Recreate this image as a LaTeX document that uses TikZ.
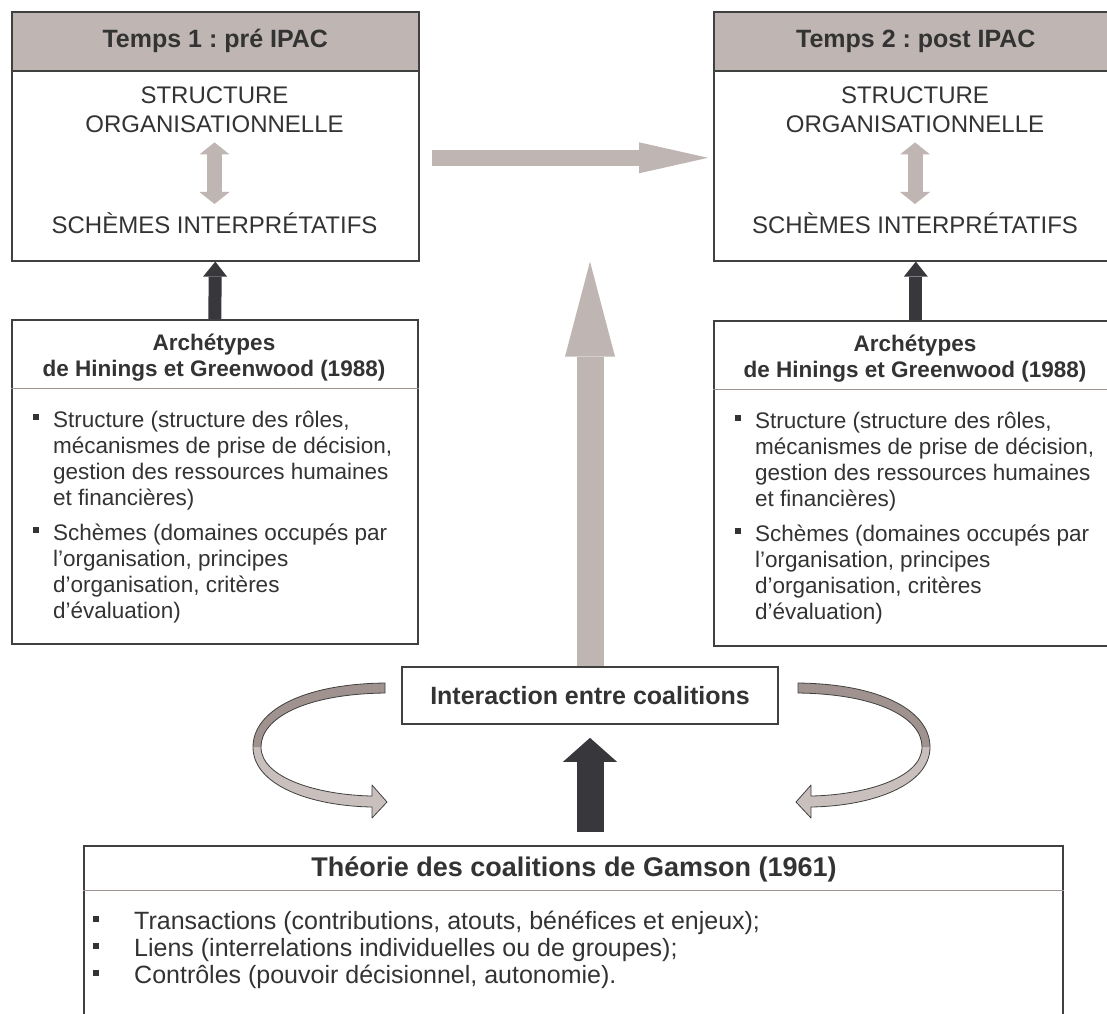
\documentclass[tikz,border=0pt]{standalone}
\usepackage{fontspec}
\setmainfont{Liberation Sans}
\usetikzlibrary{arrows.meta}
\frenchspacing

\definecolor{taupe}{RGB}{191,181,178}
\definecolor{taupedark}{RGB}{160,146,142}
\definecolor{ink}{RGB}{51,51,51}
\definecolor{framegrey}{RGB}{64,64,64}
\definecolor{anthracite}{RGB}{56,55,60}

\newcommand{\sqbullet}{\rule[7pt]{6pt}{6pt}}
\newcommand{\stack}[1]{\begin{tabular}[t]{@{}c@{}}#1\end{tabular}}

\tikzset{
  boxframe/.style={draw=framegrey, line width=1.6pt, fill=white, inner sep=0pt, anchor=north west},
  header/.style={boxframe, fill=taupe, text=ink, font=\fontsize{25}{29}\selectfont\bfseries},
  bigtext/.style={text=ink, inner sep=0pt, anchor=base, font=\fontsize{24}{29}\selectfont},
  archtitle/.style={text=ink, inner sep=0pt, anchor=base, font=\fontsize{22.5}{26}\selectfont\bfseries},
  itemtext/.style={text=ink, inner sep=0pt, anchor=base west, font=\fontsize{22.5}{26}\selectfont},
  sepline/.style={draw=taupedark, line width=1pt},
  lightarrow/.style={draw=taupe},
  darkarrow/.style={draw=anthracite},
  band/.style={draw=framegrey, line width=0.8pt, line join=round}
}

\begin{document}
\begin{tikzpicture}[x=1pt,y=-1pt]
  \useasboundingbox (0,0) rectangle (1107,1013);
  \clip (0,0) rectangle (1107,1013);

  % temps 1
  \node[boxframe, minimum width=407pt, minimum height=249pt] (box1) at (11,11) {};
  \node[header, minimum width=407pt, minimum height=59pt] (hdr1) at (11,11) {Temps 1 : pré IPAC};
  \node[bigtext] (struct1a) at (214.5,103) {STRUCTURE};
  \node[bigtext] (struct1b) at (214.5,132) {ORGANISATIONNELLE};
  \node[bigtext] (schem1) at (214.5,233) {SCHÈMES INTERPRÉTATIFS};

  % temps 2
  \node[boxframe, minimum width=404pt, minimum height=249pt] (box2) at (713,11) {};
  \node[header, minimum width=404pt, minimum height=59pt] (hdr2) at (713,11) {Temps 2 : post IPAC};
  \node[bigtext] (struct2a) at (915,103) {STRUCTURE};
  \node[bigtext] (struct2b) at (915,132) {ORGANISATIONNELLE};
  \node[bigtext] (schem2) at (915,233) {SCHÈMES INTERPRÉTATIFS};

  % archetypes
  \node[boxframe, minimum width=406pt, minimum height=324pt] (arch1) at (11,319) {};
  \draw[sepline] ([yshift=-69pt]arch1.north west) -- ([yshift=-69pt]arch1.north east);
  \node[archtitle] (archt1) at (214,350) {\stack{Archétypes\\de Hinings et Greenwood (1988)}};
  \node[itemtext] (archl1) at (33,427) {\begin{tabular}[t]{@{}l@{\hspace{14pt}}l@{}}
    \sqbullet & Structure (structure des rôles,\\
    & mécanismes de prise de décision,\\
    & gestion des ressources humaines\\
    & et financières)\\[9pt]
    \sqbullet & Schèmes (domaines occupés par\\
    & l’organisation, principes\\
    & d’organisation, critères\\
    & d’évaluation)
  \end{tabular}};

  \node[boxframe, minimum width=404pt, minimum height=325pt] (arch2) at (713,320) {};
  \draw[sepline] ([yshift=-69pt]arch2.north west) -- ([yshift=-69pt]arch2.north east);
  \node[archtitle] (archt2) at (915,351) {\stack{Archétypes\\de Hinings et Greenwood (1988)}};
  \node[itemtext] (archl2) at (735,428) {\begin{tabular}[t]{@{}l@{\hspace{14pt}}l@{}}
    \sqbullet & Structure (structure des rôles,\\
    & mécanismes de prise de décision,\\
    & gestion des ressources humaines\\
    & et financières)\\[9pt]
    \sqbullet & Schèmes (domaines occupés par\\
    & l’organisation, principes\\
    & d’organisation, critères\\
    & d’évaluation)
  \end{tabular}};

  % coalitions
  \node[boxframe, anchor=center, minimum width=376pt, minimum height=57pt,
        text=ink, font=\fontsize{25}{30}\selectfont\bfseries] (inter) at (590,695.5) {Interaction entre coalitions};

  \node[boxframe, minimum width=979pt, minimum height=200pt] (gamson) at (83,845) {};
  \draw[sepline] ([yshift=-45pt]gamson.north west) -- ([yshift=-45pt]gamson.north east);
  \node[archtitle, font=\fontsize{27}{30}\selectfont\bfseries] (gamsont) at (574,876) {Théorie des coalitions de Gamson (1961)};
  \node[itemtext, font=\fontsize{25}{27}\selectfont] (gamsonl) at (93,929) {\begin{tabular}[t]{@{}l@{\hspace{35pt}}l@{}}
    \sqbullet & Transactions (contributions, atouts, bénéfices et enjeux);\\
    \sqbullet & Liens (interrelations individuelles ou de groupes);\\
    \sqbullet & Contrôles (pouvoir décisionnel, autonomie).
  \end{tabular}};

  % arrows
  \draw[lightarrow, line width=15pt,
        {Triangle[length=12pt,width=30pt,line width=0pt]}-{Triangle[length=12pt,width=30pt,line width=0pt]},
        shorten <=10pt, shorten >=8pt] (struct1b.south) -- (schem1.north);
  \draw[lightarrow, line width=15pt,
        {Triangle[length=12pt,width=30pt,line width=0pt]}-{Triangle[length=12pt,width=30pt,line width=0pt]},
        shorten <=10pt, shorten >=8pt] (struct2b.south) -- (schem2.north);
  \draw[lightarrow, line width=16pt, -{Triangle[length=69pt,width=31pt,line width=0pt]}]
    ([xshift=12pt,yshift=-21.5pt]box1.east) -- ([xshift=-5pt,yshift=-21.5pt]box2.west);
  \draw[darkarrow, line width=13pt, -{Triangle[length=15pt,width=24pt,line width=0pt]}] (arch1.north) -- (box1.south);
  \draw[darkarrow, line width=13pt, -{Triangle[length=15pt,width=24pt,line width=0pt]}] (arch2.north) -- (box2.south);
  \draw[lightarrow, line width=27pt, -{Triangle[length=95pt,width=50pt,line width=0pt]}] (inter.north) -- (inter.north |- box1.south);
  \draw[darkarrow, line width=27pt, -{Triangle[length=24pt,width=54pt,line width=0pt]}, shorten <=13pt, shorten >=13pt]
    (inter.south |- gamson.north) -- (inter.south);

  % curved arrows
  \foreach \side in {1,-1} {
    \begin{scope}[shift={(591.5-591.5*\side,0)}, xscale=\side]
      \fill[taupe!85!white] (253,747) .. controls (253,785) and (310,806) .. (372,807)
        -- (372,818) -- (387,802) -- (372,785) -- (372,796)
        .. controls (318,795) and (261,778) .. (261,747) -- cycle;
      \fill[taupedark] (385,683) .. controls (300,684) and (253,712) .. (253,747)
        -- (261,747) .. controls (261,718) and (305,694) .. (385,693) -- cycle;
      \draw[band] (385,683) .. controls (300,684) and (253,712) .. (253,747)
        .. controls (253,785) and (310,806) .. (372,807)
        -- (372,818) -- (387,802) -- (372,785) -- (372,796)
        .. controls (318,795) and (261,778) .. (261,747)
        .. controls (261,718) and (305,694) .. (385,693) -- cycle;
    \end{scope}
  }
\end{tikzpicture}
\end{document}
